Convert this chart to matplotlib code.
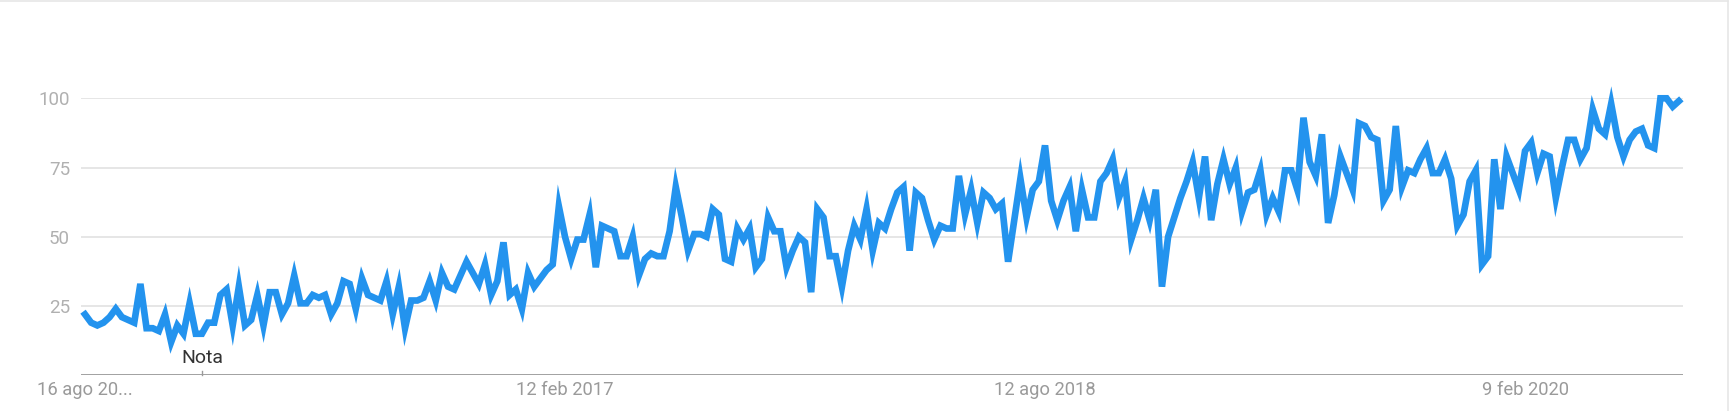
import matplotlib
matplotlib.use("Agg")
import matplotlib.pyplot as plt
from matplotlib.lines import Line2D

# ---- data (weekly interest, Google-Trends style) ----
values = [
    22, 19, 18, 19, 21, 24, 21, 20, 19, 33,
    17, 17, 16, 22, 12, 18, 15, 26, 15, 15,
    19, 19, 29, 31, 18, 32, 18, 20, 29, 18,
    30, 30, 22, 26, 36, 26, 26, 29, 28, 29,
    22, 26, 34, 33, 24, 35, 29, 28, 27, 34,
    22, 32, 17, 27, 27, 28, 34, 27, 37, 32,
    31, 36, 41, 37, 33, 40, 29, 34, 48, 29,
    31, 24, 37, 32, 35, 38, 40, 61, 50, 42,
    49, 49, 58, 39, 54, 53, 52, 43, 43, 50,
    36, 42, 44, 43, 43, 52, 68, 57, 45, 51,
    51, 50, 60, 58, 42, 41, 53, 49, 53, 39,
    42, 57, 52, 52, 39, 45, 50, 48, 30, 60,
    57, 43, 43, 32, 45, 54, 49, 60, 45, 55,
    53, 60, 66, 68, 45, 66, 64, 56, 49, 54,
    53, 53, 72, 58, 67, 55, 66, 64, 60, 62,
    41, 56, 71, 57, 67, 70, 83, 63, 56, 63,
    68, 52, 67, 57, 57, 70, 73, 78, 64, 70,
    49, 56, 64, 56, 67, 32, 50, 57, 64, 70,
    77, 64, 79, 56, 69, 78, 69, 75, 59, 66,
    67, 74, 58, 64, 59, 74, 74, 67, 93, 77,
    72, 87, 55, 65, 79, 73, 67, 91, 90, 86,
    85, 63, 67, 90, 68, 74, 73, 78, 82, 73,
    73, 78, 71, 54, 58, 70, 74, 40, 43, 78,
    60, 79, 73, 67, 81, 84, 73, 80, 79, 64,
    75, 85, 85, 78, 82, 96, 89, 87, 98, 86,
    79, 85, 88, 89, 83, 82, 100, 100, 97, 99,
]
weeks = list(range(len(values)))

xtick_weeks = [0, 78, 156, 234]
xtick_labels = ["16 ago 20...", "12 feb 2017", "12 ago 2018", "9 feb 2020"]
ytick_values = [25, 50, 75, 100]
note_week = 19
note_label = "Nota"

# ---- figure ----
W, H = 1731, 411
fig = plt.figure(figsize=(W / 100, H / 100), dpi=100)
plt.rcParams["font.family"] = ["Roboto", "DejaVu Sans"]

left_px, right_px = 81, 1683
top_px, bottom_px = 98.3, 375.3
ax = fig.add_axes([left_px / W, 1 - bottom_px / H,
                   (right_px - left_px) / W, (bottom_px - top_px) / H])

ax.plot(weeks, values, color="#2393EE", lw=4.8, solid_joinstyle="miter",
        clip_on=False, zorder=3)

ax.set_xlim(-0.65, 259.67)
ax.set_ylim(0, 100)

for v in ytick_values:
    ax.axhline(v, color="#e2e2e2", lw=1.2, zorder=1)
ax.axhline(0, color="#9a9a9a", lw=1.3, zorder=2)

for s in ax.spines.values():
    s.set_visible(False)
ax.set_yticks(ytick_values)
ax.set_yticklabels([str(v) for v in ytick_values])
ax.tick_params(axis="y", length=0, pad=8, labelsize=13.5, labelcolor="#b0b0b0")
ax.set_xticks([])

# x labels
for wk, lab in zip(xtick_weeks, xtick_labels):
    ax.annotate(lab, xy=(wk, 0), xycoords="data", xytext=(0, -15),
                textcoords="offset pixels", ha="center", va="center",
                fontsize=13.2, color="#9a9a9a", annotation_clip=False)

# note marker
ax.plot([note_week, note_week], [0, 1.6], color="#9a9a9a", lw=1, clip_on=False, zorder=2)
ax.annotate(note_label, xy=(note_week, 0), xycoords="data", xytext=(0, 17),
            textcoords="offset pixels", ha="center", va="center",
            fontsize=14, color="#333333", annotation_clip=False)

# card border (top and right)
fig.add_artist(Line2D([0, 1728 / W], [1 - 1.5 / H, 1 - 1.5 / H],
                      transform=fig.transFigure, color="#e6e6e6", lw=1.2))
fig.add_artist(Line2D([1728 / W, 1728 / W], [0, 1 - 1.5 / H],
                      transform=fig.transFigure, color="#e6e6e6", lw=1.2))

fig.savefig("out.png", dpi=100, facecolor="white")
